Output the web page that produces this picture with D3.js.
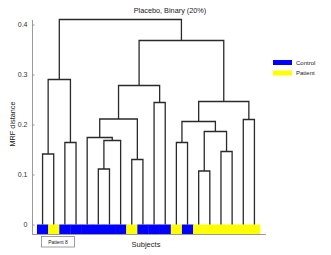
<!DOCTYPE html>
<html><head><meta charset="utf-8">
<script src="https://cdn.jsdelivr.net/npm/d3@7"></script>
<style>body{margin:0;background:#fff}svg{display:block}text{font-family:"Liberation Sans",Arial,sans-serif}</style>
</head><body><div id="chart"></div>
<script>
// Leaves in display order and their group
const leaves = ["1","2","3","4","5","6","7","8","9","10","11","12","13","14","15","16","17","18","19","20"];
const leafGroup = ["Control","Patient","Control","Control","Control","Control","Control","Control","Patient","Control",
                   "Control","Control","Patient","Control","Patient","Patient","Patient","Patient","Patient","Patient"];
// Linkage: node ids 0..19 are leaves, merge k creates node 20+k
const mergeLeft   = [5, 14, 0, 8, 16, 20, 2, 12, 4, 21, 27, 18, 28, 10, 30, 32, 22, 35, 36];
const mergeRight  = [6, 15, 1, 9, 17, 7, 3, 13, 25, 24, 29, 19, 23, 11, 31, 33, 26, 34, 37];
const mergeHeight = [0.111,0.107,0.141,0.130,0.146,0.168,0.164,0.164,0.174,0.186,0.206,0.210,0.211,0.244,0.246,0.278,0.290,0.368,0.410];
const yTicks = [0, 0.1, 0.2, 0.3, 0.4];
const groups = ["Control","Patient"];
const groupColors = ["#0000ff","#ffff00"];
const title = "Placebo, Binary (20%)";
const yLabel = "MRF distance";
const xLabel = "Subjects";
const note = "Patient 8";

const W = 331, H = 255;
const svg = d3.select("#chart").append("svg").attr("width", W).attr("height", H);

const x = d3.scaleBand().domain(leaves).range([37, 260]).padding(0);
const y = d3.scaleLinear().domain([0, 0.4]).range([224.5, 24.5]);
const color = d3.scaleOrdinal().domain(groups).range(groupColors);

// axes box lines (left and bottom)
const axisColor = "#9a9a9a";
svg.append("line").attr("x1", 32.5).attr("x2", 32.5).attr("y1", 20).attr("y2", 234.5).attr("stroke", axisColor).attr("stroke-width", 1);
svg.append("line").attr("x1", 32).attr("x2", 266).attr("y1", 234.5).attr("y2", 234.5).attr("stroke", axisColor).attr("stroke-width", 1);

const yAxis = d3.axisRight(y).tickValues(yTicks).tickSize(2).tickFormat(d => d === 0 ? "0" : d3.format(".1f")(d));
const gy = svg.append("g").attr("transform", "translate(32.5,0)").call(yAxis);
gy.select(".domain").remove();
gy.selectAll(".tick line").attr("stroke", axisColor);
gy.selectAll(".tick text").attr("x", -5).attr("text-anchor", "end").attr("font-size", 7).attr("fill", "#333");

// node positions
const nodeX = leaves.map(l => x(l) + x.bandwidth() / 2);
const nodeY = leaves.map(() => y(0));
mergeLeft.forEach((l, k) => {
  const r = mergeRight[k];
  nodeX.push((nodeX[l] + nodeX[r]) / 2);
  nodeY.push(y(mergeHeight[k]));
});

// group bar
svg.append("g").selectAll("rect").data(leaves).join("rect")
  .attr("x", d => x(d)).attr("y", y(0)).attr("width", x.bandwidth() + 0.3).attr("height", 9.5)
  .attr("fill", (d, i) => color(leafGroup[i]));

// dendrogram links
const g = svg.append("g").attr("fill", "none").attr("stroke", "#2a2a2a").attr("stroke-width", 1.3);
mergeLeft.forEach((l, k) => {
  const r = mergeRight[k];
  const hy = y(mergeHeight[k]);
  g.append("path").attr("d", `M${nodeX[l]},${nodeY[l]}V${hy}H${nodeX[r]}V${nodeY[r]}`);
});

// title & labels
svg.append("text").attr("x", 170).attr("y", 12.5).attr("text-anchor", "middle").attr("font-size", 7.3).attr("fill", "#222").text(title);
svg.append("text").attr("transform", "translate(14.5,124) rotate(-90)").attr("text-anchor", "middle").attr("font-size", 7.3).attr("fill", "#222").text(yLabel);
svg.append("text").attr("x", 146).attr("y", 246.5).attr("text-anchor", "middle").attr("font-size", 7.5).attr("fill", "#222").text(xLabel);

// note box
svg.append("rect").attr("x", 41.5).attr("y", 236.5).attr("width", 33).attr("height", 10.5).attr("fill", "#fff").attr("stroke", "#888").attr("stroke-width", 0.8);
svg.append("text").attr("x", 58).attr("y", 244).attr("text-anchor", "middle").attr("font-size", 5).attr("fill", "#222").text(note);

// legend
const lg = svg.append("g");
groups.forEach((gname, i) => {
  lg.append("rect").attr("x", 273).attr("y", 60 + i * 10.5).attr("width", 19).attr("height", 5).attr("fill", color(gname));
  lg.append("text").attr("x", 296).attr("y", 64.5 + i * 10.5).attr("font-size", 6).attr("fill", "#222").text(gname);
});
</script></body></html>
